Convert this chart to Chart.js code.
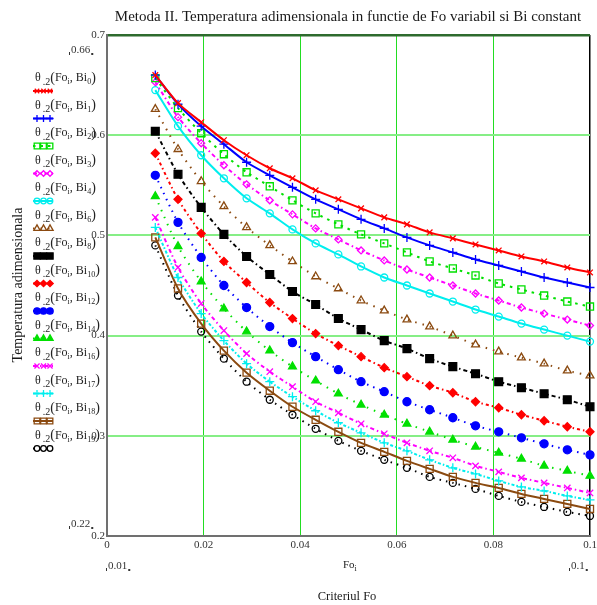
<!DOCTYPE html>
<html>
<head>
<meta charset="utf-8">
<script src="https://cdn.jsdelivr.net/npm/chart.js@4.4.0/dist/chart.umd.min.js"></script>
<style>
  html, body { margin: 0; padding: 0; background: #fff; }
  canvas { display: block; }
</style>
</head>
<body>
<canvas id="chart" width="597" height="605"></canvas>
<script>
// Fourier numbers (x) and dimensionless temperature for each Biot number
const foValues = [0.01, 0.0147, 0.0195, 0.0242, 0.0289, 0.0337, 0.0384, 0.0432, 0.0479, 0.0526,
                  0.0574, 0.0621, 0.0668, 0.0716, 0.0763, 0.0811, 0.0858, 0.0905, 0.0953, 0.1];

const biIndex = [0, 1, 2, 3, 4, 6, 8, 10, 12, 14, 16, 17, 18, 19];

const thetaBi0  = [0.660, 0.632, 0.613, 0.595, 0.580, 0.567, 0.557, 0.545, 0.536, 0.527, 0.518, 0.511, 0.503, 0.497, 0.491, 0.485, 0.479, 0.474, 0.468, 0.463];
const thetaBi1  = [0.660, 0.631, 0.609, 0.591, 0.573, 0.560, 0.548, 0.536, 0.526, 0.516, 0.507, 0.498, 0.490, 0.483, 0.476, 0.470, 0.464, 0.458, 0.453, 0.448];
const thetaBi2  = [0.657, 0.627, 0.602, 0.581, 0.563, 0.549, 0.535, 0.522, 0.511, 0.501, 0.492, 0.483, 0.474, 0.467, 0.460, 0.452, 0.446, 0.440, 0.434, 0.429];
const thetaBi3  = [0.653, 0.618, 0.592, 0.570, 0.551, 0.535, 0.521, 0.507, 0.496, 0.485, 0.475, 0.466, 0.458, 0.450, 0.442, 0.435, 0.428, 0.422, 0.416, 0.410];
const thetaBi4  = [0.645, 0.609, 0.580, 0.557, 0.537, 0.522, 0.506, 0.492, 0.481, 0.469, 0.458, 0.450, 0.442, 0.434, 0.426, 0.419, 0.412, 0.406, 0.400, 0.394];
const thetaBi6  = [0.626, 0.586, 0.554, 0.529, 0.508, 0.490, 0.474, 0.459, 0.447, 0.435, 0.425, 0.416, 0.409, 0.400, 0.391, 0.384, 0.378, 0.372, 0.365, 0.360];
const thetaBi8  = [0.604, 0.561, 0.528, 0.501, 0.479, 0.461, 0.444, 0.431, 0.417, 0.406, 0.395, 0.387, 0.377, 0.369, 0.362, 0.354, 0.348, 0.342, 0.336, 0.329];
const thetaBi10 = [0.582, 0.536, 0.502, 0.474, 0.453, 0.433, 0.417, 0.402, 0.390, 0.379, 0.368, 0.359, 0.350, 0.343, 0.334, 0.328, 0.321, 0.315, 0.309, 0.304];
const thetaBi12 = [0.560, 0.513, 0.478, 0.450, 0.428, 0.409, 0.393, 0.379, 0.366, 0.354, 0.344, 0.334, 0.326, 0.318, 0.310, 0.304, 0.298, 0.292, 0.286, 0.281];
const thetaBi14 = [0.539, 0.489, 0.454, 0.427, 0.404, 0.385, 0.369, 0.355, 0.342, 0.331, 0.321, 0.312, 0.304, 0.296, 0.289, 0.283, 0.277, 0.270, 0.265, 0.260];
const thetaBi16 = [0.518, 0.468, 0.432, 0.405, 0.382, 0.364, 0.349, 0.334, 0.323, 0.312, 0.302, 0.293, 0.285, 0.278, 0.270, 0.264, 0.258, 0.253, 0.248, 0.243];
const thetaBi17 = [0.508, 0.458, 0.422, 0.395, 0.372, 0.354, 0.339, 0.325, 0.313, 0.303, 0.293, 0.285, 0.276, 0.268, 0.262, 0.255, 0.249, 0.245, 0.240, 0.236];
const thetaBi18 = [0.498, 0.447, 0.412, 0.385, 0.363, 0.345, 0.329, 0.316, 0.304, 0.293, 0.284, 0.275, 0.267, 0.259, 0.253, 0.248, 0.242, 0.237, 0.232, 0.227];
const thetaBi19 = [0.490, 0.440, 0.404, 0.377, 0.354, 0.336, 0.321, 0.307, 0.295, 0.285, 0.276, 0.268, 0.259, 0.253, 0.247, 0.240, 0.234, 0.229, 0.224, 0.220];

const xTicks = [0, 0.02, 0.04, 0.06, 0.08, 0.1];
const xTickLabels = ['0', '0.02', '0.04', '0.06', '0.08', '0.1'];
const yTicks = [0.2, 0.3, 0.4, 0.5, 0.6, 0.7];
const yTickLabels = ['0.2', '0.3', '0.4', '0.5', '0.6', '0.7'];

const seriesValues = [thetaBi0, thetaBi1, thetaBi2, thetaBi3, thetaBi4, thetaBi6, thetaBi8,
                      thetaBi10, thetaBi12, thetaBi14, thetaBi16, thetaBi17, thetaBi18, thetaBi19];

// trace looks: colour, dash, marker
const BROWN = '#8b4a10';
const traceStyles = [
  { color: '#ff0000', dash: [],            point: 'crossRot', r: 4,   fill: false },
  { color: '#0000ff', dash: [],            point: 'cross',    r: 4.5, fill: false },
  { color: '#00e000', dash: [2.5, 5],      point: 'rect',     r: 5,   fill: false },
  { color: '#ff00ff', dash: [4, 3, 1.5, 3],point: 'rectRot',  r: 3.5, fill: false },
  { color: '#00eeee', dash: [],            point: 'circle',   r: 3.5, fill: false },
  { color: BROWN,     dash: [1.5, 6],      point: 'triangle', r: 4.5, fill: false },
  { color: '#000000', dash: [4, 3, 1.5, 3],point: 'rect',     r: 5.5, fill: true  },
  { color: '#ff0000', dash: [3, 3, 1.5, 3],point: 'rectRot',  r: 4,   fill: true  },
  { color: '#0000ff', dash: [1.5, 5],      point: 'circle',   r: 4,   fill: true  },
  { color: '#00e000', dash: [1.5, 6],      point: 'triangle', r: 4.5, fill: true  },
  { color: '#ff00ff', dash: [4, 3, 1.5, 3],point: 'crossRot', r: 4.5, fill: false },
  { color: '#00eeee', dash: [3, 2, 1.5, 2],point: 'cross',    r: 4.5, fill: false },
  { color: BROWN,     dash: [],            point: 'rect',     r: 5,   fill: false },
  { color: '#000000', dash: [1.5, 5],      point: 'circle',   r: 3.5, fill: false }
];

const SERIF = '"Liberation Serif", "Times New Roman", serif';

const datasets = seriesValues.map((vals, k) => {
  const st = traceStyles[k];
  return {
    label: 'Bi' + biIndex[k],
    data: vals.map((v, i) => ({ x: foValues[i], y: v })),
    borderColor: st.color,
    borderWidth: 2,
    borderDash: st.dash,
    tension: 0.25,
    pointStyle: st.point,
    pointRadius: st.r,
    pointBorderWidth: 1.3,
    pointBorderColor: st.color,
    pointBackgroundColor: st.fill ? st.color : 'rgba(255,255,255,0)',
    clip: false
  };
});

function putText(ctx, str, x, y, size, align) {
  ctx.font = size + 'px ' + SERIF;
  ctx.textAlign = align || 'left';
  ctx.fillText(str, x, y);
  return ctx.measureText(str).width;
}

// small corner marks around the axis-limit placeholders
function limitLabel(ctx, str, x, y) {
  const w = putText(ctx, str, x, y, 11, 'left');
  ctx.fillRect(x - 2, y + 2, 1, 3);
  ctx.fillRect(x + w + 1, y + 3, 2, 2);
}

function drawMarker(ctx, st, x, y) {
  ctx.save();
  ctx.setLineDash([]);
  ctx.strokeStyle = st.color;
  ctx.fillStyle = st.fill ? st.color : 'rgba(255,255,255,0)';
  ctx.lineWidth = 1.3;
  Chart.helpers.drawPoint(ctx, { pointStyle: st.point, radius: st.r * 0.8, rotation: 0, borderWidth: 1.3 }, x, y);
  ctx.restore();
}

const decorPlugin = {
  id: 'decor',
  afterDraw(chart) {
    const ctx = chart.ctx;
    ctx.save();
    ctx.fillStyle = '#1a1a1a';
    ctx.textBaseline = 'middle';

    putText(ctx, 'Metoda II. Temperatura adimensionala in functie de Fo variabil si Bi constant', 348, 17, 15, 'center');

    ctx.save();
    ctx.translate(18, 285);
    ctx.rotate(-Math.PI / 2);
    putText(ctx, 'Temperatura adimensionala', 0, 0, 14, 'center');
    ctx.restore();

    putText(ctx, 'Criteriul Fo', 347, 597, 12.5, 'center');
    let fx = 343 + putText(ctx, 'Fo', 343, 565, 11, 'left');
    putText(ctx, 'i', fx, 569, 8, 'left');

    ctx.fillStyle = '#333';
    limitLabel(ctx, '0.66', 71, 50);
    limitLabel(ctx, '0.22', 71, 524);
    limitLabel(ctx, '0.01', 108, 566);
    limitLabel(ctx, '0.1', 571, 566);

    // legend column: label text then a short marker line
    biIndex.forEach((bi, k) => {
      const st = traceStyles[k];
      const ty = 78 + 27.5 * k;
      const my = 91 + 27.5 * k;
      ctx.fillStyle = '#222';
      let x = 35;
      x += putText(ctx, 'θ', x, ty, 12) + 2;
      x += putText(ctx, '.2', x, ty + 4, 10);
      x += putText(ctx, '(', x, ty, 14);
      x += putText(ctx, 'Fo', x, ty, 12);
      x += putText(ctx, 'i', x, ty + 4, 8);
      x += putText(ctx, ', Bi', x, ty, 12);
      x += putText(ctx, String(bi), x, ty + 4, 8);
      putText(ctx, ')', x, ty, 14);

      ctx.save();
      ctx.strokeStyle = st.color;
      ctx.lineWidth = 2;
      ctx.setLineDash(st.dash);
      ctx.beginPath();
      ctx.moveTo(33, my);
      ctx.lineTo(53, my);
      ctx.stroke();
      ctx.restore();
      [37, 43.5, 50].forEach(px => drawMarker(ctx, st, px, my));
    });
    ctx.restore();
  }
};

new Chart(document.getElementById('chart').getContext('2d'), {
  type: 'line',
  data: { datasets: datasets },
  plugins: [decorPlugin],
  options: {
    responsive: false,
    animation: false,
    devicePixelRatio: 1,
    layout: { padding: { top: 35, right: 7, bottom: 0, left: 0 } },
    plugins: {
      legend: { display: false },
      tooltip: { enabled: false },
      title: { display: false }
    },
    scales: {
      x: {
        type: 'linear',
        min: 0,
        max: 0.1,
        afterBuildTicks: (scale) => { scale.ticks = xTicks.map(v => ({ value: v })); },
        afterFit: (scale) => { scale.height = 69; scale.paddingLeft = 0; scale.paddingRight = 0; },
        ticks: {
          autoSkip: false,
          maxRotation: 0,
          padding: 3,
          color: '#333',
          font: { family: SERIF, size: 11 },
          callback: (v, i) => xTickLabels[i]
        },
        grid: {
          drawTicks: false,
          color: (c) => (c.tick && c.tick.value >= 0.1 ? '#000000' : '#22dd22'),
          lineWidth: (c) => (c.tick && c.tick.value >= 0.1 ? 1.5 : 1)
        },
        border: { color: '#707070', width: 2 }
      },
      y: {
        type: 'linear',
        min: 0.2,
        max: 0.7,
        afterBuildTicks: (scale) => { scale.ticks = yTicks.map(v => ({ value: v })); },
        afterFit: (scale) => { scale.width = 107; scale.paddingTop = 0; scale.paddingBottom = 0; },
        ticks: {
          padding: 2,
          color: '#333',
          font: { family: SERIF, size: 11 },
          callback: (v, i) => yTickLabels[i]
        },
        grid: {
          drawTicks: false,
          color: (c) => (c.tick && c.tick.value >= 0.7 ? '#2e6b2e' : '#86ee86'),
          lineWidth: (c) => (c.tick && c.tick.value >= 0.7 ? 2.5 : 2)
        },
        border: { color: '#707070', width: 2 }
      }
    }
  }
});
</script>
</body>
</html>
